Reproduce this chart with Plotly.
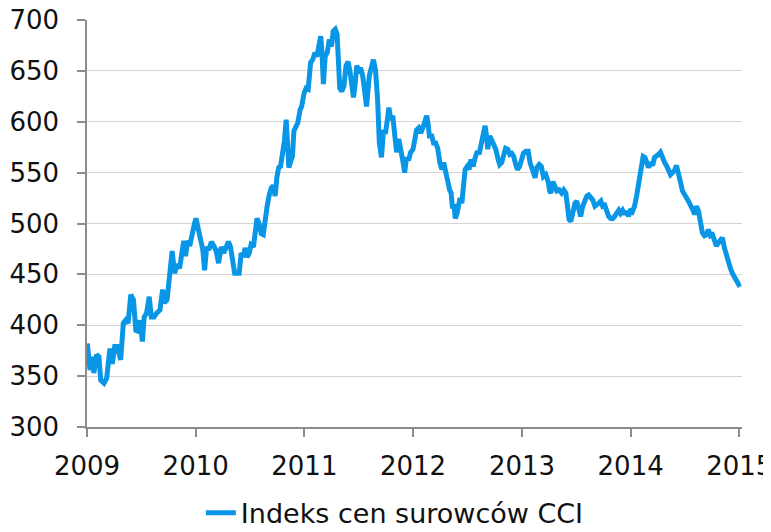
import plotly.graph_objects as go

dates = [
    "2009-01-02","2009-01-11","2009-01-19","2009-01-24","2009-02-02","2009-02-10","2009-02-16","2009-02-27",
    "2009-03-08","2009-03-19","2009-03-27","2009-04-04","2009-04-13","2009-04-24","2009-05-03","2009-05-11",
    "2009-05-19","2009-05-28","2009-06-06","2009-06-14","2009-06-22","2009-06-28","2009-07-06","2009-07-12",
    "2009-07-20","2009-07-29","2009-08-05","2009-08-14","2009-08-23","2009-09-03","2009-09-12","2009-09-18",
    "2009-09-27","2009-10-06","2009-10-14","2009-10-22","2009-10-31","2009-11-08","2009-11-16","2009-11-22",
    "2009-11-28","2009-12-05","2009-12-12","2009-12-20","2009-12-28",
    "2010-01-02","2010-01-09","2010-01-17","2010-01-25","2010-01-31","2010-02-07","2010-02-14","2010-02-23",
    "2010-03-03","2010-03-10","2010-03-19","2010-03-28","2010-04-05","2010-04-13","2010-04-21","2010-04-28",
    "2010-05-05","2010-05-12","2010-05-19","2010-05-27","2010-06-03","2010-06-11","2010-06-16","2010-06-23",
    "2010-06-30","2010-07-06","2010-07-14","2010-07-20","2010-07-26","2010-08-03","2010-08-09","2010-08-16",
    "2010-08-23","2010-08-29","2010-09-05","2010-09-12","2010-09-19","2010-09-25","2010-10-01","2010-10-07",
    "2010-10-13","2010-10-20","2010-10-26","2010-11-01","2010-11-06","2010-11-10","2010-11-16","2010-11-22",
    "2010-11-27","2010-12-03","2010-12-10","2010-12-18","2010-12-23","2010-12-31",
    "2011-01-07","2011-01-14","2011-01-22","2011-01-29","2011-02-06","2011-02-12","2011-02-18","2011-02-25",
    "2011-03-01","2011-03-06","2011-03-12","2011-03-19","2011-03-26","2011-04-02","2011-04-08","2011-04-15",
    "2011-04-21","2011-04-27","2011-04-30","2011-05-07","2011-05-14","2011-05-21","2011-05-28","2011-06-03",
    "2011-06-09","2011-06-15","2011-06-20","2011-06-26","2011-07-03","2011-07-09","2011-07-16","2011-07-22",
    "2011-07-29","2011-08-07","2011-08-13","2011-08-21","2011-08-28","2011-09-04","2011-09-10","2011-09-17",
    "2011-09-24","2011-09-30","2011-10-07","2011-10-12","2011-10-18","2011-10-25","2011-11-01","2011-11-07",
    "2011-11-14","2011-11-20","2011-11-27","2011-12-04","2011-12-10","2011-12-17","2011-12-24",
    "2012-01-01","2012-01-07","2012-01-13","2012-01-20","2012-01-27","2012-02-03","2012-02-09","2012-02-16",
    "2012-02-21","2012-02-25","2012-03-04","2012-03-10","2012-03-17","2012-03-24","2012-03-31","2012-04-07",
    "2012-04-13","2012-04-20","2012-04-26","2012-05-03","2012-05-08","2012-05-12","2012-05-18","2012-05-22",
    "2012-05-28","2012-06-02","2012-06-07","2012-06-13","2012-06-17","2012-06-24","2012-07-01","2012-07-07",
    "2012-07-14","2012-07-21","2012-07-27","2012-08-04","2012-08-10","2012-08-17","2012-08-24","2012-08-30",
    "2012-09-04","2012-09-08","2012-09-15","2012-09-22","2012-09-28","2012-10-05","2012-10-12","2012-10-18",
    "2012-10-25","2012-11-01","2012-11-07","2012-11-14","2012-11-21","2012-11-27","2012-12-04","2012-12-11",
    "2012-12-17","2012-12-24","2012-12-31",
    "2013-01-06","2013-01-14","2013-01-22","2013-01-28","2013-02-06","2013-02-14","2013-02-20","2013-02-28",
    "2013-03-07","2013-03-14","2013-03-22","2013-03-30","2013-04-04","2013-04-08","2013-04-15","2013-04-21",
    "2013-04-28","2013-05-06","2013-05-14","2013-05-21","2013-05-28","2013-06-03","2013-06-08","2013-06-14",
    "2013-06-21","2013-06-28","2013-07-04","2013-07-11","2013-07-17","2013-07-24","2013-07-31","2013-08-07",
    "2013-08-13","2013-08-20","2013-08-27","2013-09-03","2013-09-09","2013-09-16","2013-09-23","2013-09-29",
    "2013-10-06","2013-10-13","2013-10-19","2013-10-26","2013-11-02","2013-11-08","2013-11-15","2013-11-22",
    "2013-11-28","2013-12-05","2013-12-12","2013-12-18","2013-12-25",
    "2014-01-01","2014-01-07","2014-01-14","2014-01-21","2014-01-27","2014-02-01","2014-02-07","2014-02-12",
    "2014-02-18","2014-02-24","2014-03-02","2014-03-09","2014-03-16","2014-03-22","2014-03-29","2014-04-05",
    "2014-04-11","2014-04-18","2014-04-25","2014-05-01","2014-05-08","2014-05-15","2014-05-22","2014-05-28",
    "2014-06-04","2014-06-11","2014-06-18","2014-06-24","2014-07-01","2014-07-08","2014-07-14","2014-07-21",
    "2014-07-28","2014-08-04","2014-08-10","2014-08-17","2014-08-24","2014-08-30","2014-09-06","2014-09-13",
    "2014-09-19","2014-09-26","2014-10-03","2014-10-09","2014-10-16","2014-10-23","2014-10-29","2014-11-05",
    "2014-11-12","2014-11-18","2014-11-25","2014-12-02","2014-12-09","2014-12-16","2014-12-23","2014-12-30",
    "2015-01-05",
]

cci = [
    382,356,369,353,371,369,346,343,
    348,377,362,379,379,366,402,405,
    402,430,425,395,394,405,384,408,
    412,428,408,408,412,415,435,422,
    425,448,473,451,460,456,471,483,
    468,483,478,491,500,
    505,493,485,474,454,477,474,482,
    477,474,461,477,471,477,482,477,
    464,451,451,451,471,467,476,467,
    471,479,477,489,505,499,490,489,
    509,517,528,535,537,527,546,555,
    556,569,581,602,576,555,561,566,
    591,594,599,612,615,628,
    633,632,658,661,668,664,676,684,
    669,637,664,668,681,674,689,691,
    686,658,633,630,635,655,659,650,
    635,624,635,655,651,653,645,627,
    615,645,651,661,651,622,579,565,
    592,588,602,614,602,606,586,570,
    583,576,563,550,565,562,570,
    573,586,592,594,589,594,599,606,
    597,586,586,579,579,574,560,553,
    560,550,540,533,530,517,517,505,
    510,517,525,520,537,553,556,553,
    563,556,564,571,568,578,583,596,
    586,573,586,581,579,573,564,558,
    560,568,574,573,568,569,566,558,
    553,556,563,
    569,571,571,560,551,545,555,558,
    556,546,548,541,532,530,541,535,
    532,533,530,533,530,517,504,502,
    513,520,522,513,507,517,523,527,
    528,525,523,517,518,520,522,517,
    518,512,507,505,505,507,510,513,
    510,513,509,512,507,
    514,512,517,527,537,550,553,566,
    565,560,555,560,557,565,566,568,
    570,563,560,557,552,548,550,552,
    557,550,540,532,527,525,522,519,
    514,509,517,512,502,491,488,489,
    494,488,489,484,478,481,483,486,
    476,469,461,456,451,448,445,440,
    441,
]

year_ticks = ["2009-01-01","2010-01-01","2011-01-01","2012-01-01","2013-01-01","2014-01-01","2015-01-01"]
year_labels = ["2009","2010","2011","2012","2013","2014","2015"]
series_name = "Indeks cen surowców CCI"

font_family = "DejaVu Sans"
font_size = 26

fig = go.Figure()
fig.add_trace(go.Scatter(
    x=dates, y=cci, mode="lines", name=series_name,
    line=dict(color="#0A96E6", width=5),
))

# the page body adds an 8px offset, so the figure is 8px smaller and margins shifted
fig.update_layout(
    width=763, height=524,
    margin=dict(l=79, r=29, t=12, b=105, autoexpand=False),
    paper_bgcolor="white", plot_bgcolor="white",
    font=dict(family=font_family, size=font_size, color="#111111"),
    showlegend=True,
    legend=dict(
        orientation="h", xref="container", yref="container",
        x=0.507, xanchor="center", y=0.036, yanchor="middle",
        font=dict(family=font_family, size=27, color="#111111"),
    ),
)
fig.update_xaxes(
    type="date", range=["2009-01-01", "2015-01-10"], automargin=False,
    tickmode="array", tickvals=year_ticks, ticktext=year_labels,
    showgrid=False, showline=True, linecolor="#8C8C8C", linewidth=1.5,
    ticks="outside", ticklen=8, tickcolor="#8C8C8C", tickwidth=1.5,
    ticklabelstandoff=7, ticklabeloverflow="allow",
    tickfont=dict(family=font_family, size=font_size, color="#111111"),
)
fig.update_yaxes(
    range=[300, 700], dtick=50, tick0=300, automargin=False,
    showgrid=True, gridcolor="#D4D4D4", gridwidth=1.2,
    showline=True, linecolor="#8C8C8C", linewidth=1.5,
    ticks="outside", ticklen=8, tickcolor="#8C8C8C", tickwidth=1.5,
    ticklabelstandoff=13, zeroline=False, ticklabeloverflow="allow",
    tickfont=dict(family=font_family, size=font_size, color="#111111"),
)

fig.write_html("out.html")
